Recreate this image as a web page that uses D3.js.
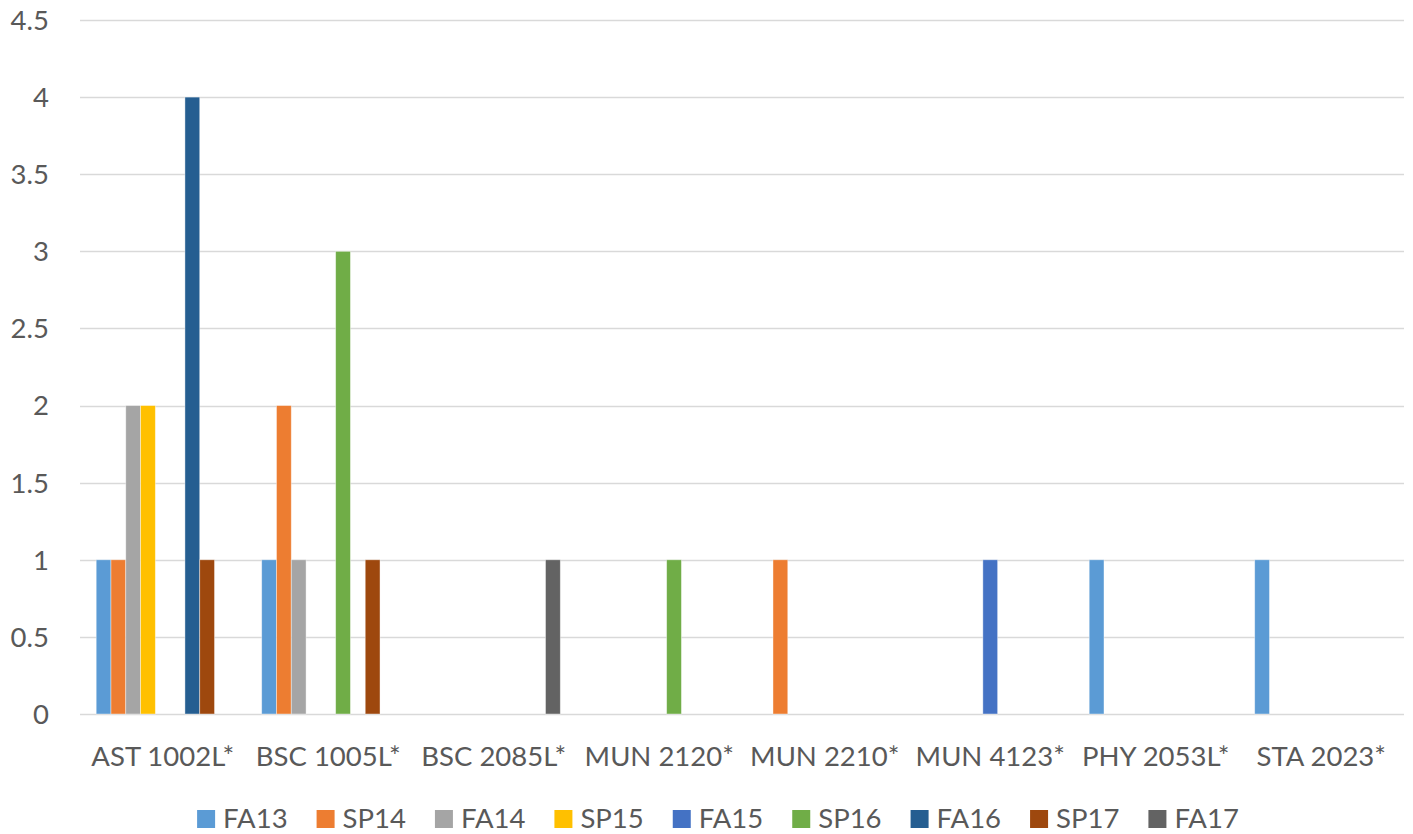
<!DOCTYPE html>
<html>
<head>
<meta charset="utf-8">
<script src="https://cdn.jsdelivr.net/npm/d3@7"></script>
<style>
  html, body { margin: 0; padding: 0; background: #ffffff; }
  svg { display: block; }
  text { font-family: Lato, "Liberation Sans", sans-serif; fill: #595959; }
</style>
</head>
<body>
<svg id="chart" width="1413" height="834"></svg>
<script>
// Course categories along the x axis
const categories = ["AST 1002L*", "BSC 1005L*", "BSC 2085L*", "MUN 2120*", "MUN 2210*", "MUN 4123*", "PHY 2053L*", "STA 2023*"];

// Terms (one bar series each)
const terms = ["FA13", "SP14", "FA14", "SP15", "FA15", "SP16", "FA16", "SP17", "FA17"];
const termColors = ["#5B9BD5", "#ED7D31", "#A5A5A5", "#FFC000", "#4472C4", "#70AD47", "#255E91", "#9E480E", "#636363"];

// Counts per term, ordered like `categories`
const FA13 = [1, 1, 0, 0, 0, 0, 1, 1];
const SP14 = [1, 2, 0, 0, 1, 0, 0, 0];
const FA14 = [2, 1, 0, 0, 0, 0, 0, 0];
const SP15 = [2, 0, 0, 0, 0, 0, 0, 0];
const FA15 = [0, 0, 0, 0, 0, 1, 0, 0];
const SP16 = [0, 3, 0, 1, 0, 0, 0, 0];
const FA16 = [4, 0, 0, 0, 0, 0, 0, 0];
const SP17 = [1, 1, 0, 0, 0, 0, 0, 0];
const FA17 = [0, 0, 1, 0, 0, 0, 0, 0];
const seriesValues = [FA13, SP14, FA14, SP15, FA15, SP16, FA16, SP17, FA17];

// Y axis ticks
const yTicks = [0, 0.5, 1, 1.5, 2, 2.5, 3, 3.5, 4, 4.5];

const FONT = 27.5;
const svg = d3.select("#chart");
const plot = { left: 80, right: 1404, top: 20, bottom: 714 };

const x0 = d3.scaleBand().domain(categories).range([plot.left, plot.right]).padding(0);
const step = x0.bandwidth();
const barW = step / (terms.length + 2.19);
const gap = 2.19 * barW;
const x1 = d3.scaleBand().domain(terms).range([gap / 2, step - gap / 2]).padding(0);

const y = d3.scaleLinear().domain([0, 4.5]).range([plot.bottom, plot.top]);

// Horizontal gridlines
svg.append("g")
  .selectAll("line")
  .data(yTicks)
  .join("line")
  .attr("x1", plot.left)
  .attr("x2", plot.right)
  .attr("y1", d => Math.round(y(d)) + 0.5)
  .attr("y2", d => Math.round(y(d)) + 0.5)
  .attr("stroke", "#D9D9D9")
  .attr("stroke-width", 1.3);

// Y tick labels
svg.append("g")
  .selectAll("text")
  .data(yTicks)
  .join("text")
  .attr("x", 49)
  .attr("y", d => y(d))
  .attr("dy", "0.36em")
  .attr("text-anchor", "end")
  .attr("font-size", FONT)
  .text(d => String(d));

// Bars
const rows = [];
terms.forEach((t, i) => {
  categories.forEach((c, j) => {
    rows.push({ term: t, cat: c, value: seriesValues[i][j], color: termColors[i] });
  });
});

svg.append("g")
  .selectAll("rect")
  .data(rows.filter(d => d.value > 0))
  .join("rect")
  .attr("x", d => x0(d.cat) + x1(d.term))
  .attr("y", d => y(d.value))
  .attr("width", x1.bandwidth())
  .attr("height", d => y(0) - y(d.value))
  .attr("fill", d => d.color)
  .attr("stroke", "#ffffff")
  .attr("stroke-opacity", 0.5)
  .attr("stroke-width", 0.8);

// Category labels
svg.append("g")
  .selectAll("text")
  .data(categories)
  .join("text")
  .attr("x", d => x0(d) + step / 2)
  .attr("y", 766)
  .attr("text-anchor", "middle")
  .attr("font-size", FONT)
  .text(d => d);

// Legend along the bottom, centred
const legend = svg.append("g");
const items = legend.selectAll("g")
  .data(terms.map((t, i) => ({ term: t, color: termColors[i] })))
  .join("g");
items.append("rect")
  .attr("width", 18)
  .attr("height", 18)
  .attr("y", 810)
  .attr("fill", d => d.color);
items.append("text")
  .attr("x", 26)
  .attr("y", 828)
  .attr("font-size", FONT)
  .text(d => d.term);

let cursor = 0;
const offsets = [];
items.each(function () {
  const w = d3.select(this).select("text").node().getComputedTextLength();
  offsets.push(cursor);
  cursor += 26 + w + 29;
});
const total = cursor - 29;
const startX = 718 - total / 2;
items.attr("transform", (d, i) => `translate(${startX + offsets[i]},0)`);
</script>
</body>
</html>
